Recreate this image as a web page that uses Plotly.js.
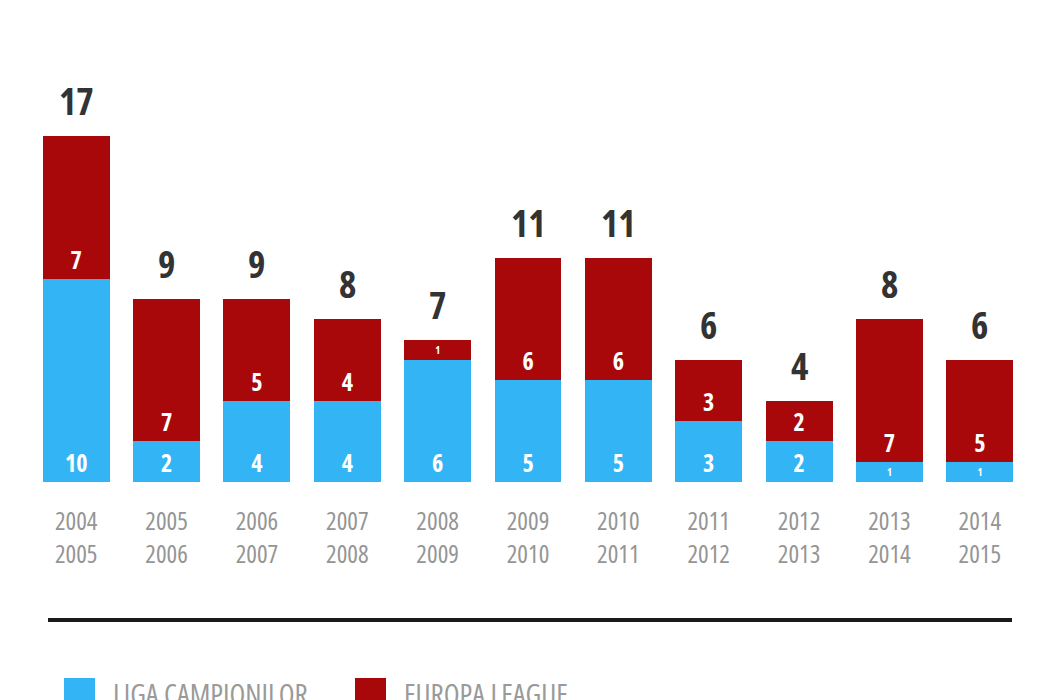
<!DOCTYPE html>
<html>
<head>
<meta charset="utf-8">
<script src="https://cdn.plot.ly/plotly-3.0.1.min.js"></script>
<style>
html,body{margin:0;padding:0;background:#fff;}
#chart{width:1050px;height:700px;}
text{font-stretch:75% !important;}
</style>
</head>
<body>
<div id="chart"></div>
<script>
const seasons = ['2004<br>2005','2005<br>2006','2006<br>2007','2007<br>2008','2008<br>2009','2009<br>2010','2010<br>2011','2011<br>2012','2012<br>2013','2013<br>2014','2014<br>2015'];
const ligaCampionilor = [10, 2, 4, 4, 6, 5, 5, 3, 2, 1, 1];
const europaLeague   = [7, 7, 5, 4, 1, 6, 6, 3, 2, 7, 5];
const seriesNames = ['LIGA CAMPIONILOR', 'EUROPA LEAGUE'];
const seriesColors = ['#33b4f5', '#a8080a'];

const FONT = '"Open Sans", "DejaVu Sans", sans-serif';
const totals = ligaCampionilor.map((v, i) => v + europaLeague[i]);

const mkTrace = (vals, k) => ({
  type: 'bar', x: seasons, y: vals, name: seriesNames[k],
  marker: {color: seriesColors[k], line: {width: 0}},
  texttemplate: '<b>%{y}</b>', textposition: 'inside', insidetextanchor: 'start',
  textangle: 0, constraintext: 'inside',
  insidetextfont: {family: FONT, size: 24, color: '#ffffff'},
  hoverinfo: 'skip'
});

const data = [mkTrace(ligaCampionilor, 0), mkTrace(europaLeague, 1)];

const L = 31, R = 25, T = 80, B = 218, W = 1050, H = 700;
const pw = W - L - R, ph = H - T - B;
const px = x => (x - L) / pw;
const py = y => (H - B - y) / ph;

const annotations = totals.map((t, i) => ({
  x: seasons[i], y: t, xref: 'x', yref: 'y', text: '<b>' + t + '</b>',
  showarrow: false, yanchor: 'bottom', yshift: 8,
  font: {family: FONT, size: 37, color: '#333333'}
}));
const legendX = [64, 355];
seriesNames.forEach((n, k) => {
  annotations.push({
    x: px(legendX[k] + 47), y: py(672), xref: 'paper', yref: 'paper',
    xanchor: 'left', yanchor: 'top', text: n, showarrow: false,
    font: {family: FONT, size: 29, color: '#9a9a9a'}
  });
});
const shapes = [
  {type: 'line', xref: 'paper', yref: 'paper', x0: px(48), x1: px(1012), y0: py(620), y1: py(620),
   line: {color: '#1a1a1a', width: 4}}
];
legendX.forEach((x, k) => shapes.push({
  type: 'rect', xref: 'paper', yref: 'paper', x0: px(x), x1: px(x + 31), y0: py(678), y1: py(715),
  fillcolor: seriesColors[k], line: {width: 0}
}));

const layout = {
  width: W, height: H, margin: {l: L, r: R, t: T, b: B, pad: 0},
  paper_bgcolor: '#ffffff', plot_bgcolor: '#ffffff',
  barmode: 'stack', bargap: 0.26, showlegend: false,
  xaxis: {type: 'category', showgrid: false, zeroline: false, showline: false, ticks: '',
          ticklabelstandoff: 22, tickfont: {family: FONT, size: 25, color: '#959595'}, fixedrange: true},
  yaxis: {range: [0, ph / 20.35], visible: false, showgrid: false, zeroline: false, fixedrange: true},
  annotations: annotations, shapes: shapes
};
Plotly.newPlot('chart', data, layout, {displayModeBar: false, staticPlot: true});
</script>
</body>
</html>
